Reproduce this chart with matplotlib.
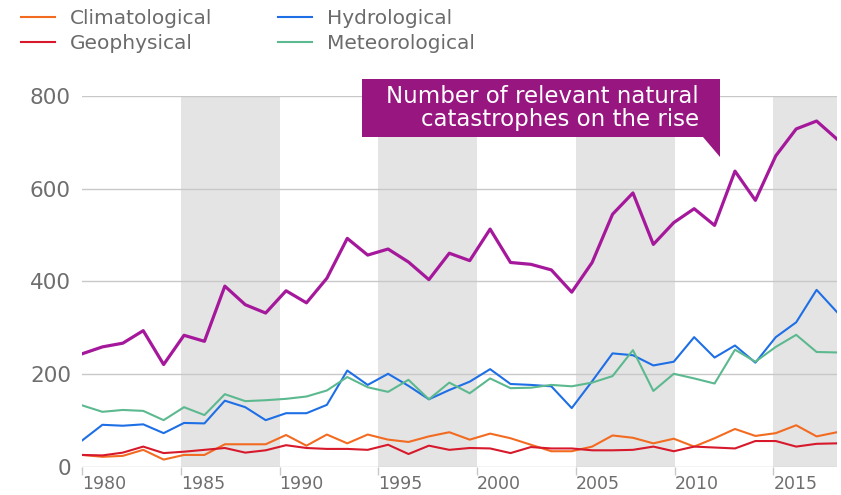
import numpy as np
import matplotlib
matplotlib.use("Agg")
import matplotlib.pyplot as plt
from matplotlib.patches import Polygon

years = np.arange(1980, 2018)

total = [244, 259, 267, 294, 221, 284, 271, 390, 350, 332,
         380, 354, 407, 493, 457, 470, 442, 404, 461, 445,
         513, 441, 437, 425, 377, 441, 545, 591, 480, 527,
         557, 521, 638, 575, 671, 729, 746, 707]
hydrological = [57, 91, 89, 92, 73, 95, 94, 143, 129, 101,
                116, 116, 134, 208, 177, 201, 175, 146, 166, 184,
                211, 179, 177, 174, 127, 185, 245, 241, 219, 227,
                280, 236, 262, 225, 280, 312, 382, 334]
meteorological = [133, 119, 123, 121, 101, 129, 112, 157, 142, 144,
                  147, 152, 165, 194, 172, 162, 188, 146, 182, 159,
                  191, 170, 171, 177, 174, 182, 196, 252, 164, 201,
                  191, 180, 253, 227, 259, 285, 248, 247]
climatological = [26, 22, 24, 37, 16, 26, 26, 49, 49, 49,
                  69, 46, 70, 51, 70, 59, 54, 66, 75, 59,
                  72, 62, 48, 34, 34, 44, 68, 63, 51, 61,
                  44, 62, 82, 67, 73, 90, 66, 75]
geophysical = [26, 25, 31, 44, 30, 33, 37, 41, 31, 36,
               47, 41, 39, 39, 37, 48, 28, 46, 37, 41,
               40, 30, 43, 40, 40, 36, 36, 37, 44, 34,
               44, 42, 40, 56, 56, 44, 50, 51]

tick_labels = ["1980", "1985", "1990", "1995", "2000", "2005", "2010", "2015"]
callout = "Number of relevant natural\ncatastrophes on the rise"

W, H = 841, 495
fig = plt.figure(figsize=(W / 100, H / 100), dpi=100)
ax = fig.add_axes([82 / W, 1 - 467 / H, (837 - 82) / W, (467 - 96) / H])

# tick marks in the original sit slightly off the whole years
tick_pos = 1980 + 4.84 * np.arange(len(tick_labels))

band_edges = list(tick_pos[1:]) + [2017]
for a, b in zip(band_edges[0::2], band_edges[1::2]):
    ax.axvspan(a, b, color="#e4e4e4", lw=0, zorder=0)

ax.plot(years, climatological, color="#f26b21", lw=1.5, label="Climatological", zorder=3)
ax.plot(years, geophysical, color="#d7192b", lw=1.5, label="Geophysical", zorder=3)
ax.plot(years, hydrological, color="#1e6fe6", lw=1.5, label="Hydrological", zorder=3)
ax.plot(years, meteorological, color="#5cb98f", lw=1.5, label="Meteorological", zorder=3)
ax.plot(years, total, color="#a5189b", lw=2.3, zorder=4)

ax.set_xlim(1980, 2017)
ax.set_ylim(0, 800)
ax.set_yticks([0, 200, 400, 600, 800])
ax.set_xticks(tick_pos)
ax.set_xticklabels(tick_labels)
for lab in ax.get_xticklabels():
    lab.set_horizontalalignment("left")

ax.grid(axis="y", color="#c8c8c8", lw=1)
ax.set_axisbelow(True)
for s in ax.spines.values():
    s.set_visible(False)
ax.tick_params(axis="y", length=0, pad=8, labelsize=15.5, labelcolor="#6e6e6e")
ax.tick_params(axis="x", length=5.5, width=1, color="#c8c8c8", pad=0,
               labelsize=12.5, labelcolor="#6e6e6e")

fig.legend(loc="upper left", bbox_to_anchor=(11 / W, 1 + 1 / H), ncol=2,
           frameon=False, fontsize=14.5, labelcolor="#6b6b6b",
           handlelength=1.7, handletextpad=0.7, columnspacing=3.3,
           labelspacing=0.3, borderpad=0)

# callout box with pointer
pts = [(362, 79), (720, 79), (720, 157), (703, 137), (362, 137)]
poly = Polygon([(x / W, 1 - y / H) for x, y in pts], closed=True,
               transform=fig.transFigure, facecolor="#971680", edgecolor="none", zorder=5)
fig.patches.append(poly)
fig.text(699 / W, 1 - 108 / H, callout, ha="right", va="center", color="white",
         fontsize=16.5, linespacing=1.0, zorder=6)

fig.savefig("out.png", dpi=100)
